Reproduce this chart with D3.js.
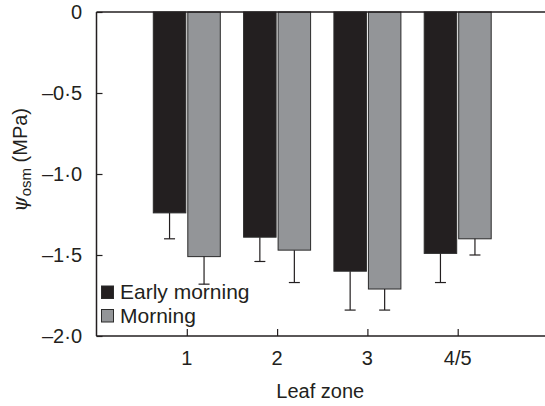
<!DOCTYPE html>
<html>
<head>
<meta charset="utf-8">
<script src="https://cdn.jsdelivr.net/npm/d3@7"></script>
<style>
  body { margin: 0; background: #fff; }
  text { font-family: "Liberation Sans", Arial, sans-serif; fill: #231f20; }
</style>
</head>
<body>
<svg id="chart" width="545" height="406"></svg>
<script>
// leaf zones and the two sampling times
var zones = ["1", "2", "3", "4/5"];
var seriesNames = ["Early morning", "Morning"];
var earlyMorning = [-1.24, -1.39, -1.60, -1.49];
var morning = [-1.51, -1.47, -1.71, -1.40];
var earlyErr = [0.16, 0.15, 0.24, 0.18];
var morningErr = [0.17, 0.20, 0.13, 0.10];
var yTicks = [0, -0.5, -1.0, -1.5, -2.0];
var colors = ["#231f20", "#939598"];

var svg = d3.select("#chart");
var mLeft = 96.5, mTop = 12, mRight = 548, mBottom = 336;

var x = d3.scaleLinear().domain([0, 5]).range([mLeft, mRight]);
var y = d3.scaleLinear().domain([0, -2]).range([mTop, mBottom]);

var fmt = function(d) {
  if (d === 0) return "0";
  return "\u2013" + Math.abs(d).toFixed(1).replace(".", "\u00b7");
};

// bars
var barW = 32.5, gap = 2;
var series = [earlyMorning, morning];
var errs = [earlyErr, morningErr];
series.forEach(function(vals, s) {
  var off = s === 0 ? -barW - gap / 2 : gap / 2;
  svg.append("g").selectAll("rect")
    .data(vals)
    .join("rect")
    .attr("x", function(d, i) { return x(i + 1) + off; })
    .attr("y", y(0))
    .attr("width", barW)
    .attr("height", function(d) { return y(d) - y(0); })
    .attr("fill", colors[s])
    .attr("stroke", "#2b2b2b")
    .attr("stroke-width", 1);

  var eb = svg.append("g").attr("stroke", "#231f20").attr("stroke-width", 1.2);
  vals.forEach(function(d, i) {
    var cx = x(i + 1) + off + barW / 2;
    var yEnd = y(d - errs[s][i]);
    eb.append("line").attr("x1", cx).attr("x2", cx).attr("y1", y(d)).attr("y2", yEnd);
    eb.append("line").attr("x1", cx - 5.5).attr("x2", cx + 5.5).attr("y1", yEnd).attr("y2", yEnd);
  });
});

// frame
var frame = svg.append("g").attr("stroke", "#231f20").attr("stroke-width", 1.5).attr("fill", "none");
frame.append("line").attr("x1", mLeft).attr("x2", 545).attr("y1", mTop).attr("y2", mTop);
frame.append("line").attr("x1", mLeft).attr("x2", mLeft).attr("y1", mTop).attr("y2", mBottom);
frame.append("line").attr("x1", mLeft).attr("x2", 545).attr("y1", mBottom).attr("y2", mBottom);

// y axis (ticks pointing inward)
var yAxis = svg.append("g")
  .attr("transform", "translate(" + mLeft + ",0)")
  .call(d3.axisRight(y).tickValues(yTicks).tickSize(6).tickFormat(""));
yAxis.select(".domain").remove();
yAxis.selectAll("line").attr("stroke", "#231f20").attr("stroke-width", 1.2);

svg.append("g").selectAll("text")
  .data(yTicks)
  .join("text")
  .attr("x", 82)
  .attr("y", function(d) { return y(d) + 7; })
  .attr("text-anchor", "end")
  .attr("font-size", 20)
  .text(fmt);

// x axis (ticks pointing inward)
var xAxis = svg.append("g")
  .attr("transform", "translate(0," + mBottom + ")")
  .call(d3.axisTop(x).tickValues([1, 2, 3, 4]).tickSize(7).tickFormat(""));
xAxis.select(".domain").remove();
xAxis.selectAll("line").attr("stroke", "#231f20").attr("stroke-width", 1.2);

svg.append("g").selectAll("text")
  .data(zones)
  .join("text")
  .attr("x", function(d, i) { return x(i + 1); })
  .attr("y", 365)
  .attr("text-anchor", "middle")
  .attr("font-size", 20)
  .text(function(d) { return d; });

svg.append("text")
  .attr("x", x(2.5) - 2)
  .attr("y", 398)
  .attr("text-anchor", "middle")
  .attr("font-size", 20)
  .text("Leaf zone");

// y title
var yt = svg.append("text")
  .attr("transform", "translate(27,160) rotate(-90)")
  .attr("text-anchor", "middle")
  .attr("font-size", 20);
yt.append("tspan").attr("font-style", "italic").attr("font-family", "DejaVu Serif").text("\u03c8");
yt.append("tspan").attr("font-size", 15).attr("dy", 4).text("osm");
yt.append("tspan").attr("dy", -4).text(" (MPa)");

// legend
var leg = svg.append("g");
seriesNames.forEach(function(name, i) {
  var ly = 286 + i * 23.5;
  leg.append("rect").attr("x", 101.5).attr("y", ly).attr("width", 12).attr("height", 12.5)
    .attr("fill", colors[i]).attr("stroke", "#2b2b2b").attr("stroke-width", 1);
  leg.append("text").attr("x", 120).attr("y", ly + 13).attr("font-size", 21).text(name);
});
</script>
</body>
</html>
